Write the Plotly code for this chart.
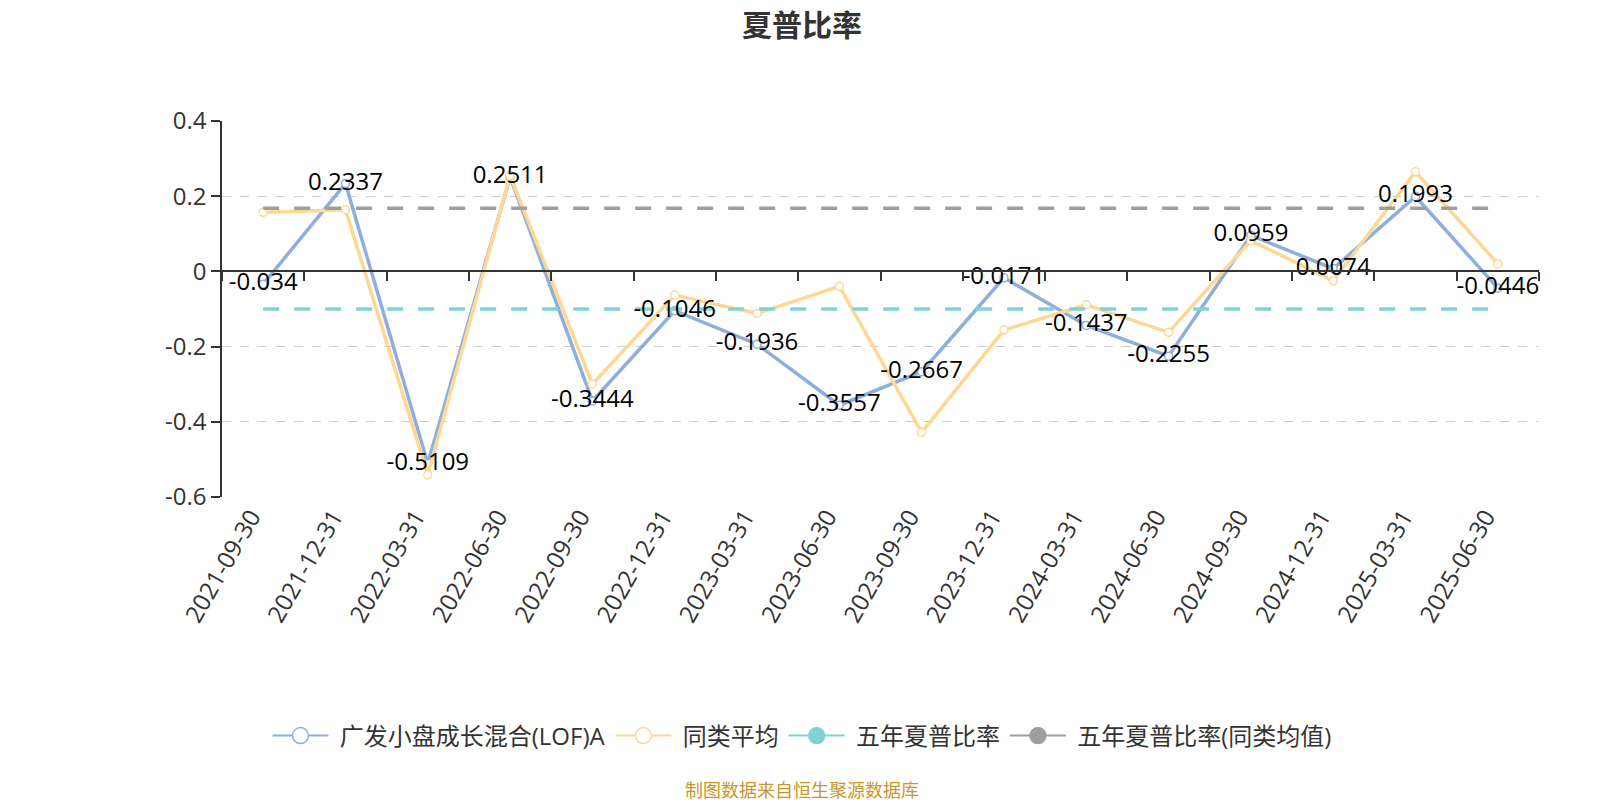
import plotly.graph_objects as go

dates = ["2021-09-30", "2021-12-31", "2022-03-31", "2022-06-30", "2022-09-30", "2022-12-31",
         "2023-03-31", "2023-06-30", "2023-09-30", "2023-12-31", "2024-03-31", "2024-06-30",
         "2024-09-30", "2024-12-31", "2025-03-31", "2025-06-30"]
fund = [-0.034, 0.2337, -0.5109, 0.2511, -0.3444, -0.1046, -0.1936, -0.3557, -0.2667, -0.0171,
        -0.1437, -0.2255, 0.0959, 0.0074, 0.1993, -0.0446]
peer = [0.157, 0.164, -0.541, 0.255, -0.300, -0.063, -0.112, -0.040, -0.428, -0.156,
        -0.089, -0.162, 0.082, -0.025, 0.265, 0.020]
five_year = -0.100
five_year_peer = 0.168
fund_labels = ["-0.034", "0.2337", "-0.5109", "0.2511", "-0.3444", "-0.1046", "-0.1936", "-0.3557",
               "-0.2667", "-0.0171", "-0.1437", "-0.2255", "0.0959", "0.0074", "0.1993", "-0.0446"]
y_ticks = [0.4, 0.2, 0, -0.2, -0.4, -0.6]
y_tick_text = ["0.4", "0.2", "0", "-0.2", "-0.4", "-0.6"]
names = ["广发小盘成长混合(LOF)A", "同类平均", "五年夏普比率", "五年夏普比率(同类均值)"]

BLUE = "#8eaedd"
YELLOW = "#fed893"
TEAL = "#80d3d5"
GRAY = "#9e9e9e"
FONT = "Open Sans, Noto Sans CJK SC, sans-serif"

L, R, T, B = 214, 69, 113, 311
W, H = 1600, 800
PW = W - L - R
PH = H - T - B

fig = go.Figure()

fig.add_trace(go.Scatter(x=dates, y=fund, mode="lines+markers", showlegend=False,
                         line=dict(color=BLUE, width=3.5),
                         marker=dict(size=8, color="white", line=dict(color=BLUE, width=1.5))))
fig.add_trace(go.Scatter(x=dates, y=peer, mode="lines+markers", showlegend=False,
                         line=dict(color=YELLOW, width=3.5),
                         marker=dict(size=8, color="white", line=dict(color=YELLOW, width=1.5))))
fig.add_trace(go.Scatter(x=dates, y=[five_year] * len(dates), mode="lines", showlegend=False,
                         line=dict(color=TEAL, width=3.5, dash="16px,15px")))
fig.add_trace(go.Scatter(x=dates, y=[five_year_peer] * len(dates), mode="lines", showlegend=False,
                         line=dict(color=GRAY, width=3.5, dash="16px,15px")))
# data labels on top, on the zero-line axis (same categories)
fig.add_trace(go.Scatter(x=dates, y=fund, mode="text", text=fund_labels, xaxis="x2",
                         textposition="middle center", showlegend=False,
                         textfont=dict(size=24, color="#000000", family=FONT)))

# legend-only entries
legend_styles = [
    (BLUE, "white"), (YELLOW, "white"), (TEAL, TEAL), (GRAY, GRAY)
]
for nm, (c, fill) in zip(names, legend_styles):
    fig.add_trace(go.Scatter(x=[None], y=[None], mode="lines+markers", name="\u00a0" + nm,
                             line=dict(color=c, width=2),
                             marker=dict(size=16, color=fill, line=dict(color=c, width=1.5))))

fig.update_layout(
    width=W, height=H,
    paper_bgcolor="white", plot_bgcolor="white",
    margin=dict(l=L, r=R, t=T, b=B),
    font=dict(family=FONT, color="#333333"),
    title=dict(text="<b>夏普比率</b>", x=794 / W, xref="container", xanchor="center",
               y=1 - 17 / H, yref="container", yanchor="middle",
               font=dict(size=30, color="#333333", family=FONT)),
    xaxis=dict(type="category", categoryorder="array", categoryarray=dates,
               range=[-0.5, len(dates) - 0.5], showline=False, showgrid=False, zeroline=False,
               ticks="", tickangle=-60, ticklabelshift=-12,
               tickfont=dict(size=24, color="#333333")),
    xaxis2=dict(type="category", categoryorder="array", categoryarray=dates,
                range=[-0.5, len(dates) - 0.5], overlaying="x", anchor="free", position=0.6,
                side="bottom", showline=True, linecolor="#333333", linewidth=1.5,
                ticks="outside", tickson="boundaries", ticklen=9, tickcolor="#333333",
                tickwidth=1.5, showticklabels=False, showgrid=False, zeroline=False),
    yaxis=dict(range=[-0.6, 0.4], tickvals=y_ticks, ticktext=y_tick_text,
               showgrid=True, gridcolor="#cccccc", griddash="dash", gridwidth=1,
               zeroline=False, showline=True, linecolor="#333333", linewidth=1.5,
               ticks="outside", ticklen=9, tickcolor="#333333", tickwidth=1.5,
               tickfont=dict(size=24, color="#333333")),
    legend=dict(orientation="h", x=794 / W, xref="container", xanchor="center",
                y=1 - 728 / H, yref="container", yanchor="middle",
                itemwidth=56, font=dict(size=24, color="#333333", family=FONT)),
    annotations=[dict(text="制图数据来自恒生聚源数据库", xref="paper", yref="paper",
                      x=(794 - L) / PW, y=(T + PH - 782) / PH, showarrow=False,
                      xanchor="center", yanchor="middle",
                      font=dict(size=18, color="#c8962e", family=FONT))],
)

fig.write_html("out.html")
